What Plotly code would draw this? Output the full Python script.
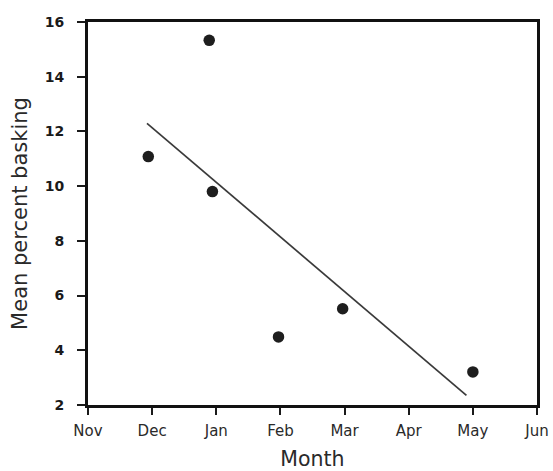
import numpy as np
import plotly.graph_objects as go

# Month positions (0 = Nov) and mean percent basking
month_pos = [0.94, 1.89, 1.94, 2.97, 3.97, 6.0]
pct_basking = [11.08, 15.33, 9.8, 4.49, 5.52, 3.21]

tick_labels = ["Nov", "Dec", "Jan", "Feb", "Mar", "Apr", "May", "Jun"]
y_ticks = [2, 4, 6, 8, 10, 12, 14, 16]

# Least-squares trend line over the span of the sampled months
slope, intercept = np.polyfit(month_pos, pct_basking, 1)
line_x = np.array([0.92, 5.9])
line_y = slope * line_x + intercept

fig = go.Figure()
fig.add_trace(go.Scatter(
    x=line_x, y=line_y, mode="lines",
    line=dict(color="#3a3a3a", width=1.7),
    hoverinfo="skip",
))
fig.add_trace(go.Scatter(
    x=month_pos, y=pct_basking, mode="markers",
    marker=dict(color="#1e1e1e", size=11.5),
))

font_family = "DejaVu Sans, sans-serif"
fig.update_layout(
    width=553, height=471,
    margin=dict(l=88, r=16, t=22, b=66),
    paper_bgcolor="white", plot_bgcolor="white",
    showlegend=False,
    font=dict(family=font_family, color="#1a1a1a"),
)
fig.update_xaxes(
    range=[0, 7],
    automargin=False,
    tickmode="array",
    tickvals=list(range(len(tick_labels))),
    ticktext=tick_labels,
    ticks="outside", ticklen=7, tickwidth=1.5, tickcolor="#1a1a1a",
    showline=True, linewidth=3, linecolor="#111", mirror=True,
    showgrid=False, zeroline=False,
    tickfont=dict(size=15, family=font_family, color="#2a2a2a"),
    ticklabelstandoff=3,
    title=dict(text="Month", font=dict(size=20.5, family=font_family, color="#2a2a2a"), standoff=16),
)
fig.update_yaxes(
    range=[2, 16],
    automargin=False,
    tickmode="array", tickvals=y_ticks,
    ticks="outside", ticklen=8, tickwidth=1.5, tickcolor="#1a1a1a",
    showline=True, linewidth=3, linecolor="#111", mirror=True,
    showgrid=False, zeroline=False,
    tickfont=dict(size=14, family=font_family, weight="bold"),
    ticklabelstandoff=10,
    title=dict(text="Mean percent basking", font=dict(size=21, family=font_family, color="#2a2a2a"), standoff=12),
)

fig.write_html("out.html")
